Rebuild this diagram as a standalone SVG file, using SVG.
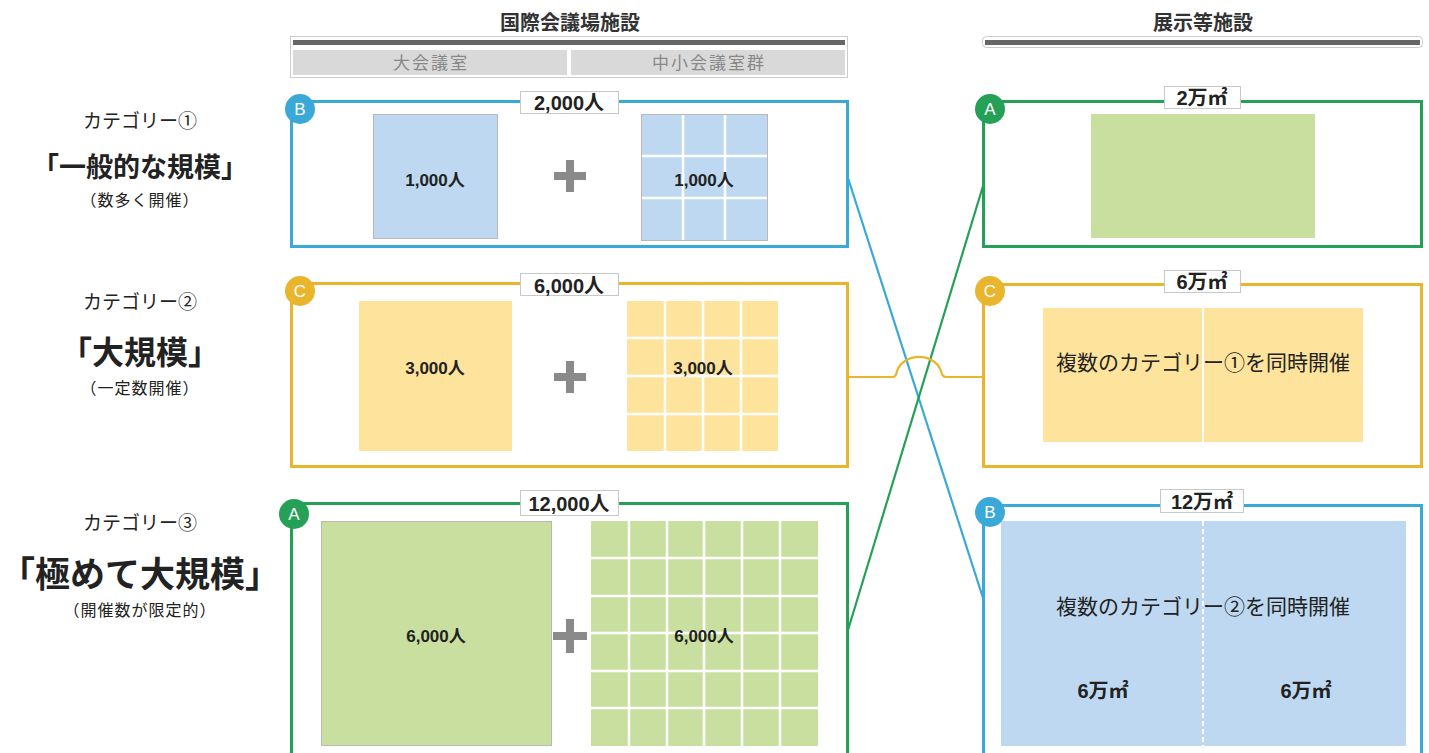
<svg xmlns="http://www.w3.org/2000/svg" width="1429" height="753" viewBox="0 0 1429 753">
<style>
text{font-family:"Noto Sans CJK JP","Liberation Sans",sans-serif;fill:#222;text-anchor:middle}
.hd{font-size:20px;font-weight:bold;fill:#333}
.sub{font-size:17px;fill:#888;letter-spacing:2px}
.cat{font-size:19px}
.big{font-weight:bold}
.note{font-size:16px;letter-spacing:1px}
.num{font-family:"Liberation Sans","Noto Sans CJK JP",sans-serif;font-size:17px;font-weight:bold}
.lab{font-family:"Liberation Sans","Noto Sans CJK JP",sans-serif;font-size:20px;font-weight:bold}
.lbox{fill:#fff;stroke:#c8c8c8;stroke-width:1}
.frame{fill:#fff;stroke-width:3}
.blue{stroke:#3aa9d8}
.yel{stroke:#e8b52c}
.grn{stroke:#25a057}
.fb{fill:#bdd8f0}
.fy{fill:#fde39c}
.fg{fill:#c9dfa0}
.room{stroke:#b8b8b8;stroke-width:1}
.grid{stroke:#fff;stroke-width:2.5;fill:none}
.plus{fill:#8a8a8a}
.badge{font-family:"Liberation Sans",sans-serif;font-size:17px;fill:#fff}
.msg{font-size:21px}
.conn{fill:none;stroke-width:2.2}
</style>

<g id="header-left">
  <text class="hd" x="570" y="30">国際会議場施設</text>
  <rect x="290.5" y="36.5" width="557" height="41" fill="#fff" stroke="#ccc"/>
  <rect x="293" y="40" width="552" height="5" fill="#666"/>
  <rect x="293" y="50" width="274" height="25" fill="#d9d9d9"/>
  <rect x="571" y="50" width="274" height="25" fill="#d9d9d9"/>
  <text class="sub" x="431" y="69">大会議室</text>
  <text class="sub" x="709" y="69">中小会議室群</text>
</g>

<g id="header-right">
  <text class="hd" x="1203" y="30">展示等施設</text>
  <rect x="982.5" y="36.5" width="440" height="11" rx="4" fill="#fff" stroke="#ccc"/>
  <rect x="985" y="40" width="435" height="5" fill="#666"/>
</g>

<g id="cat1-label">
  <text class="cat" x="140" y="128">カテゴリー①</text>
  <text class="big" x="140" y="177" font-size="27">「一般的な規模」</text>
  <text class="note" x="140" y="206">（数多く開催）</text>
</g>
<g id="cat2-label">
  <text class="cat" x="140" y="309">カテゴリー②</text>
  <text class="big" x="140" y="364" font-size="32">「大規模」</text>
  <text class="note" x="140" y="394">（一定数開催）</text>
</g>
<g id="cat3-label">
  <text class="cat" x="140" y="530">カテゴリー③</text>
  <text class="big" x="140" y="587" font-size="35">「極めて大規模」</text>
  <text class="note" x="140" y="616">（開催数が限定的）</text>
</g>

<g id="connectors">
  <line class="conn blue" x1="848" y1="178" x2="983" y2="598"/>
  <line class="conn grn" x1="848" y1="630" x2="983" y2="186"/>
  <path class="conn yel" stroke-width="2.6" d="M848 377 H893 Q896 377 897 371 A23 20 0 0 1 941 371 Q942 377 946 377 H983"/>
</g>

<g id="conf-B">
  <rect class="frame blue" x="291.5" y="101.5" width="556" height="145"/>
  <rect class="fb room" x="373.5" y="114.5" width="124" height="124"/>
  <rect class="fb room" x="641.5" y="114.5" width="126" height="126"/>
  <path class="grid" d="M683 115V240M725 115V240M642 156H767M642 198H767"/>
  <text class="num" x="435" y="186">1,000人</text>
  <text class="num" x="704" y="186">1,000人</text>
  <rect class="plus" x="566" y="160" width="8" height="32"/>
  <rect class="plus" x="554" y="172" width="32" height="8"/>
  <rect class="lbox" x="520.5" y="91.5" width="98" height="22"/>
  <text class="lab" x="569" y="110">2,000人</text>
  <circle cx="300" cy="109" r="15" fill="#3aa9d8"/>
  <text class="badge" x="300" y="115">B</text>
</g>

<g id="conf-C">
  <rect class="frame yel" x="291.5" y="283.5" width="556" height="183"/>
  <rect class="fy" x="359" y="301" width="153" height="150"/>
  <rect class="fy" x="627" y="301" width="151" height="150"/>
  <path class="grid" d="M665 301V451M703 301V451M741 301V451M627 338H778M627 376H778M627 414H778"/>
  <text class="num" x="435" y="374">3,000人</text>
  <text class="num" x="703" y="374">3,000人</text>
  <rect class="plus" x="566" y="361" width="8" height="32"/>
  <rect class="plus" x="554" y="373" width="32" height="8"/>
  <rect class="lbox" x="520.5" y="273.5" width="98" height="22"/>
  <text class="lab" x="569" y="293">6,000人</text>
  <circle cx="300" cy="291" r="15" fill="#e8b52c"/>
  <text class="badge" x="300" y="297">C</text>
</g>

<g id="conf-A">
  <rect class="frame grn" x="291.5" y="503.5" width="556" height="260"/>
  <rect class="fg room" x="321.5" y="521.5" width="230" height="224"/>
  <rect class="fg" x="591" y="521" width="227" height="225"/>
  <path class="grid" d="M629 521V746M667 521V746M704 521V746M742 521V746M780 521V746M591 558H818M591 596H818M591 633H818M591 671H818M591 708H818"/>
  <text class="num" x="436" y="642">6,000人</text>
  <text class="num" x="704" y="642">6,000人</text>
  <rect class="plus" x="566" y="619" width="8" height="34"/>
  <rect class="plus" x="553" y="632" width="34" height="8"/>
  <rect class="lbox" x="520.5" y="490.5" width="98" height="25"/>
  <text class="lab" x="569" y="511">12,000人</text>
  <circle cx="294" cy="514" r="15" fill="#25a057"/>
  <text class="badge" x="294" y="520">A</text>
</g>

<g id="exh-A">
  <rect class="frame grn" x="983.5" y="101.5" width="438" height="145"/>
  <rect class="fg" x="1091" y="114" width="224" height="124"/>
  <rect class="lbox" x="1164.5" y="86.5" width="76" height="22"/>
  <text class="lab" x="1202" y="105">2万㎡</text>
  <circle cx="990" cy="109" r="15" fill="#25a057"/>
  <text class="badge" x="990" y="115">A</text>
</g>

<g id="exh-C">
  <rect class="frame yel" x="983.5" y="284.5" width="438" height="182"/>
  <rect class="fy" x="1043" y="308" width="320" height="134"/>
  <line x1="1203" y1="308" x2="1203" y2="442" stroke="#fff" stroke-width="2"/>
  <text class="msg" x="1203" y="370">複数のカテゴリー①を同時開催</text>
  <rect class="lbox" x="1164.5" y="270.5" width="76" height="22"/>
  <text class="lab" x="1202" y="289">6万㎡</text>
  <circle cx="990" cy="291" r="15" fill="#e8b52c"/>
  <text class="badge" x="990" y="297">C</text>
</g>

<g id="exh-B">
  <rect class="frame blue" x="983.5" y="505.5" width="438" height="260"/>
  <rect class="fb" x="1001" y="521" width="405" height="225"/>
  <line x1="1203" y1="521" x2="1203" y2="746" stroke="#fff" stroke-width="2" stroke-dasharray="5 3"/>
  <text class="msg" x="1203" y="614">複数のカテゴリー②を同時開催</text>
  <text class="lab" x="1103" y="698" font-size="18">6万㎡</text>
  <text class="lab" x="1306" y="698" font-size="18">6万㎡</text>
  <rect class="lbox" x="1160.5" y="489.5" width="83" height="23"/>
  <text class="lab" x="1202" y="509">12万㎡</text>
  <circle cx="990" cy="512" r="15" fill="#3aa9d8"/>
  <text class="badge" x="990" y="518">B</text>
</g>
</svg>
